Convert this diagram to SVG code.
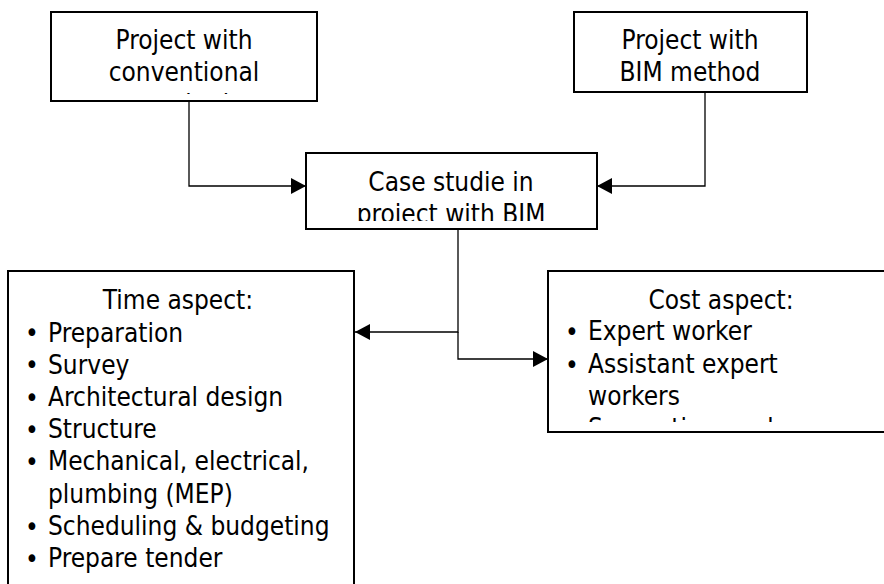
<svg xmlns="http://www.w3.org/2000/svg" width="884" height="584" viewBox="0 0 884 584">
<style>
.box{fill:#fff;stroke:#000;stroke-width:2}
.t{font-family:"DejaVu Sans Condensed","DejaVu Sans",sans-serif;font-stretch:condensed;font-size:26px;fill:#000}
.c{text-anchor:middle}
.b{font-size:26px}
.ln{fill:none;stroke:#000;stroke-width:1.3}
</style>
<defs>
<marker id="ah" viewBox="0 0 15 16" refX="15" refY="8" markerWidth="15" markerHeight="16" markerUnits="userSpaceOnUse" orient="auto">
<path d="M0,0 L15,8 L0,16 Z" fill="#000"/>
</marker>
<clipPath id="cp1"><rect x="52" y="13" width="264" height="81"/></clipPath>
<clipPath id="cp3"><rect x="307" y="154" width="289" height="67"/></clipPath>
<clipPath id="cp5"><rect x="549" y="272" width="335" height="150"/></clipPath>
</defs>
<rect width="884" height="584" fill="#fff"/>
<g id="connectors">
<path class="ln" d="M189,101 V186 H306" marker-end="url(#ah)"/>
<path class="ln" d="M705,92 V186 H597" marker-end="url(#ah)"/>
<path class="ln" d="M458,229 V332 H355" marker-end="url(#ah)"/>
<path class="ln" d="M458,332 V359 H548" marker-end="url(#ah)"/>
</g>
<g id="node-conventional">
<rect class="box" x="51" y="12" width="266" height="89"/>
<g clip-path="url(#cp1)">
<text class="t c" x="184" y="49">Project with</text>
<text class="t c" x="184" y="81">conventional</text>
<text class="t c" x="184" y="113">method</text>
</g>
</g>
<g id="node-bim">
<rect class="box" x="574" y="12" width="233" height="80"/>
<text class="t c" x="690" y="49">Project with</text>
<text class="t c" x="690" y="81">BIM method</text>
</g>
<g id="node-case">
<rect class="box" x="306" y="153" width="291" height="76"/>
<g clip-path="url(#cp3)">
<text class="t c" x="451" y="191">Case studie in</text>
<text class="t c" x="451" y="223">project with BIM</text>
</g>
</g>
<g id="node-time">
<rect class="box" x="8" y="271" width="346" height="340"/>
<text class="t c" x="178" y="309">Time aspect:</text>
<text class="t b" x="25" y="342">•</text><text class="t" x="48" y="341.5">Preparation</text>
<text class="t b" x="25" y="374">•</text><text class="t" x="48" y="373.7">Survey</text>
<text class="t b" x="25" y="406.5">•</text><text class="t" x="48" y="406">Architectural design</text>
<text class="t b" x="25" y="438.5">•</text><text class="t" x="48" y="438">Structure</text>
<text class="t b" x="25" y="470.5">•</text><text class="t" x="48" y="470">Mechanical, electrical,</text>
<text class="t" x="48" y="502.5">plumbing (MEP)</text>
<text class="t b" x="25" y="535.5">•</text><text class="t" x="48" y="535">Scheduling &amp; budgeting</text>
<text class="t b" x="25" y="567.5">•</text><text class="t" x="48" y="567">Prepare tender</text>
</g>
<g id="node-cost">
<rect class="box" x="548" y="271" width="350" height="161"/>
<g clip-path="url(#cp5)">
<text class="t c" x="721" y="309">Cost aspect:</text>
<text class="t b" x="565" y="340.5">•</text><text class="t" x="588" y="340">Expert worker</text>
<text class="t b" x="565" y="373.5">•</text><text class="t" x="588" y="373">Assistant expert</text>
<text class="t" x="588" y="405">workers</text>
<text class="t b" x="565" y="437.5">•</text><text class="t" x="588" y="437">Supporting workers</text>
</g>
</g>
</svg>
